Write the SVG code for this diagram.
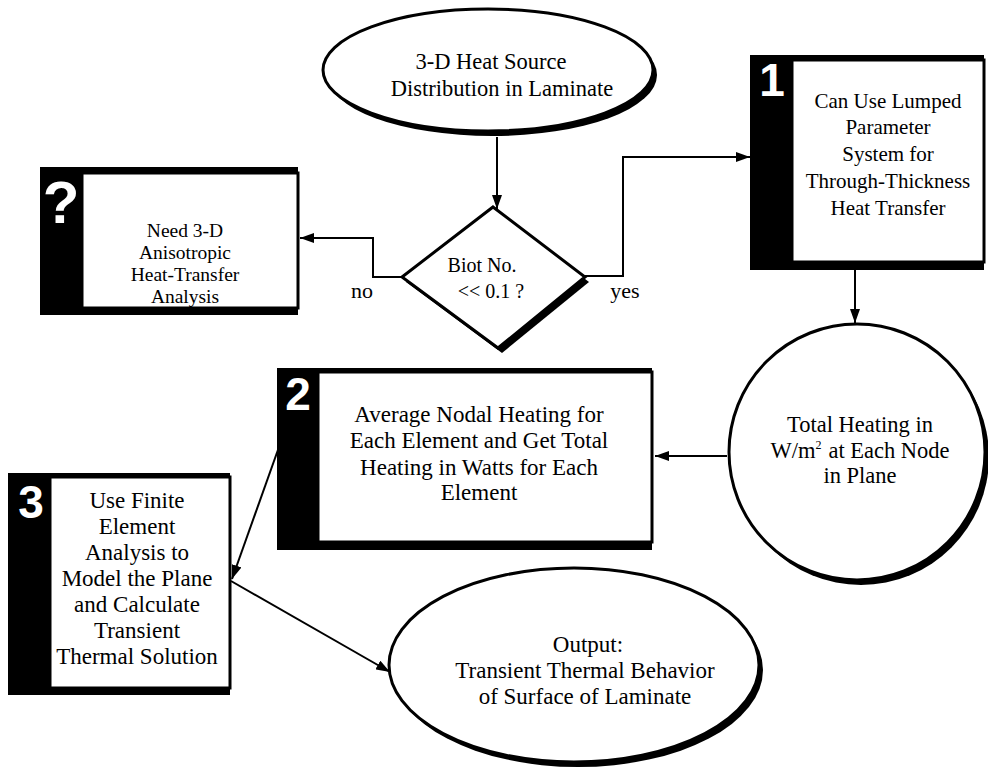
<svg xmlns="http://www.w3.org/2000/svg" width="988" height="774" viewBox="0 0 988 774">
<style>
  .bg{fill:#ffffff}
  .sh{fill:#000000;stroke:none}
  .box{fill:#ffffff;stroke:#000000;stroke-width:3}
  .t{font-family:"Liberation Serif","Times New Roman",serif;fill:#000000;text-anchor:middle}
  .num{font-family:"Liberation Sans",Arial,sans-serif;font-weight:bold;fill:#ffffff;text-anchor:middle}
  .c{fill:none;stroke:#000000;stroke-width:2}
</style>
<defs>
  <marker id="ah" viewBox="0 0 14 10" refX="14" refY="5" markerWidth="14" markerHeight="10" markerUnits="userSpaceOnUse" orient="auto">
    <path d="M0,0 L14,5 L0,10 z" fill="#000000"/>
  </marker>
</defs>
<rect class="bg" x="0" y="0" width="988" height="774"/>

<g id="connectors">
  <line class="c" x1="497" y1="137" x2="497" y2="209" marker-end="url(#ah)"/>
  <polyline class="c" points="402,277 373,277 373,238 300,238" marker-end="url(#ah)"/>
  <polyline class="c" points="585,276 623,276 623,157 750,157" marker-end="url(#ah)"/>
  <line class="c" x1="855" y1="270" x2="855" y2="323" marker-end="url(#ah)"/>
  <line class="c" x1="727" y1="456" x2="655" y2="456" marker-end="url(#ah)"/>
  <line class="c" x1="279" y1="447" x2="232" y2="579" marker-end="url(#ah)"/>
  <line class="c" x1="231" y1="581" x2="390" y2="672" marker-end="url(#ah)"/>
  <text class="t" x="362" y="298" font-size="22">no</text>
  <text class="t" x="625" y="298" font-size="22">yes</text>
</g>

<g id="start">
  <ellipse class="sh" cx="492" cy="75" rx="165" ry="61"/>
  <ellipse class="box" cx="488" cy="70" rx="165" ry="61"/>
  <text class="t" font-size="22.5"><tspan x="491" y="69">3-D Heat Source</tspan><tspan x="502" y="96">Distribution in Laminate</tspan></text>
</g>

<g id="decision">
  <polygon class="sh" points="497,212 589,282 502,353 406,282"/>
  <polygon class="box" points="493,207 585,277 498,348 402,277"/>
  <text class="t" font-size="20"><tspan x="482" y="272">Biot No.</tspan><tspan x="491" y="298">&lt;&lt; 0.1 ?</tspan></text>
</g>

<g id="box-q">
  <rect class="sh" x="40" y="167" width="258" height="148"/>
  <rect class="box" x="82" y="173" width="216" height="135"/>
  <text class="num" x="61" y="223" font-size="60">?</text>
  <text class="t" font-size="19.5"><tspan x="185" y="237">Need 3-D</tspan><tspan x="185" y="259">Anisotropic</tspan><tspan x="185" y="281">Heat-Transfer</tspan><tspan x="185" y="303">Analysis</tspan></text>
</g>

<g id="box-1">
  <rect class="sh" x="750" y="55" width="234" height="215"/>
  <rect class="box" x="792" y="60" width="192" height="202"/>
  <text class="num" x="772" y="96" font-size="46">1</text>
  <text class="t" font-size="21"><tspan x="888" y="108">Can Use Lumped</tspan><tspan x="888" y="134">Parameter</tspan><tspan x="888" y="161">System for</tspan><tspan x="888" y="188">Through-Thickness</tspan><tspan x="888" y="215">Heat Transfer</tspan></text>
</g>

<g id="total-heating">
  <circle class="sh" cx="861" cy="457" r="128"/>
  <circle class="box" cx="857" cy="452" r="128"/>
  <text class="t" font-size="22.5"><tspan x="860" y="432">Total Heating in</tspan><tspan x="860" y="458">W/m<tspan dy="-9" font-size="12">2</tspan><tspan dy="9" dx="7">at Each Node</tspan></tspan><tspan x="860" y="483">in Plane</tspan></text>
</g>

<g id="box-2">
  <rect class="sh" x="277" y="368" width="375" height="182"/>
  <rect class="box" x="318" y="372" width="334" height="170"/>
  <text class="num" x="298" y="410" font-size="46">2</text>
  <text class="t" font-size="23"><tspan x="479" y="422">Average Nodal Heating for</tspan><tspan x="479" y="448">Each Element and Get Total</tspan><tspan x="479" y="475">Heating in Watts for Each</tspan><tspan x="479" y="500">Element</tspan></text>
</g>

<g id="box-3">
  <rect class="sh" x="8" y="473" width="222" height="222"/>
  <rect class="box" x="50" y="477" width="180" height="211"/>
  <text class="num" x="31" y="518" font-size="46">3</text>
  <text class="t" font-size="23"><tspan x="137" y="508">Use Finite</tspan><tspan x="137" y="534">Element</tspan><tspan x="137" y="560">Analysis to</tspan><tspan x="137" y="586">Model the Plane</tspan><tspan x="137" y="612">and Calculate</tspan><tspan x="137" y="638">Transient</tspan><tspan x="137" y="664">Thermal Solution</tspan></text>
</g>

<g id="output">
  <ellipse class="sh" cx="578" cy="670" rx="185" ry="97"/>
  <ellipse class="box" cx="574" cy="665" rx="185" ry="97"/>
  <text class="t" font-size="23"><tspan x="588" y="652">Output:</tspan><tspan x="585" y="678">Transient Thermal Behavior</tspan><tspan x="585" y="704">of Surface of Laminate</tspan></text>
</g>
</svg>
